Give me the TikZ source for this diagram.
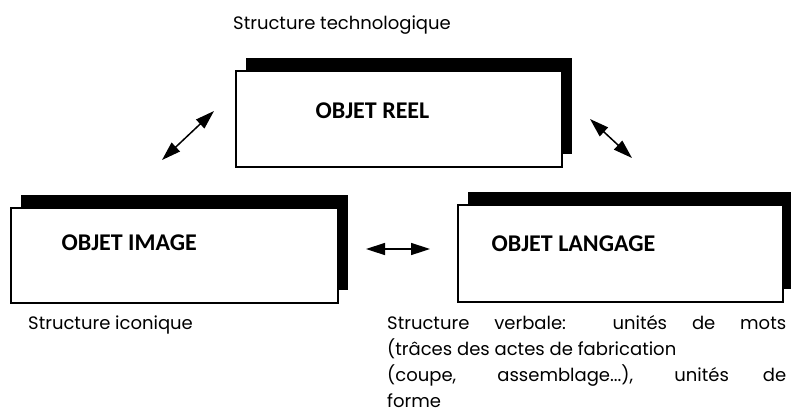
\documentclass[tikz,border=0pt]{standalone}
\usepackage{fontspec}
\setmainfont{Poppins}
\newfontfamily\titlefont{Carlito}
\usetikzlibrary{arrows.meta,shadows,calc}

\begin{document}
\begin{tikzpicture}[x=1pt,y=-1pt, >={Triangle[length=19pt,width=12pt]}]
	\tikzstyle{object}=[draw, line width=1.2pt, fill=white, inner sep=0pt, drop shadow={shadow xshift=10pt,shadow yshift=13pt,opacity=1,fill=black}]
	\tikzstyle{title}=[font=\titlefont\bfseries\fontsize{24}{28}\selectfont, anchor=base west, inner sep=0pt]
	\tikzstyle{annot}=[font=\fontsize{18}{26}\selectfont, inner sep=0pt]
	\tikzstyle{link}=[<->, line width=1.5pt]

	\useasboundingbox (0,0) rectangle (791,413);

	% Draw the object boxes
	\node[object, minimum width=326pt, minimum height=96pt] (reel) at (399,119) {};
	\node[object, minimum width=327pt, minimum height=95pt] (image) at (174.5,255.5) {};
	\node[object, minimum width=325pt, minimum height=97pt] (langage) at (620.5,253.5) {};

	% Titles inside the boxes
	\node[title] (reel-t) at ($(reel.north west)+(80,48)$) {OBJET REEL};
	\node[title] (image-t) at ($(image.north west)+(51,43)$) {OBJET IMAGE};
	\node[title] (langage-t) at ($(langage.north west)+(34,47)$) {OBJET LANGAGE};

	% Annotate the structures
	\node[annot, anchor=base west] (tech) at (233,29) {Structure technologique};
	\node[annot, anchor=base west] (icon) at (28,329) {Structure iconique};
	\node[annot, anchor=base west, text width=399pt, align=justify] (verb) at (387,329)
	{Structure verbale: unités de mots\linebreak (trâces des actes de fabrication\newline (coupe, assemblage...), unités de\linebreak forme};

	% Arrows between the objects
	\coordinate (a1s) at (162,160);
	\coordinate (a1e) at (214,111);
	\coordinate (a2s) at (590,119);
	\coordinate (a2e) at (632,158);
	\coordinate (a3s) at (366,249);
	\coordinate (a3e) at (430,249);
	\foreach \s/\e in {a1s/a1e,a2s/a2e,a3s/a3e}
	\draw[link] (\s) -- (\e);
\end{tikzpicture}
\end{document}
